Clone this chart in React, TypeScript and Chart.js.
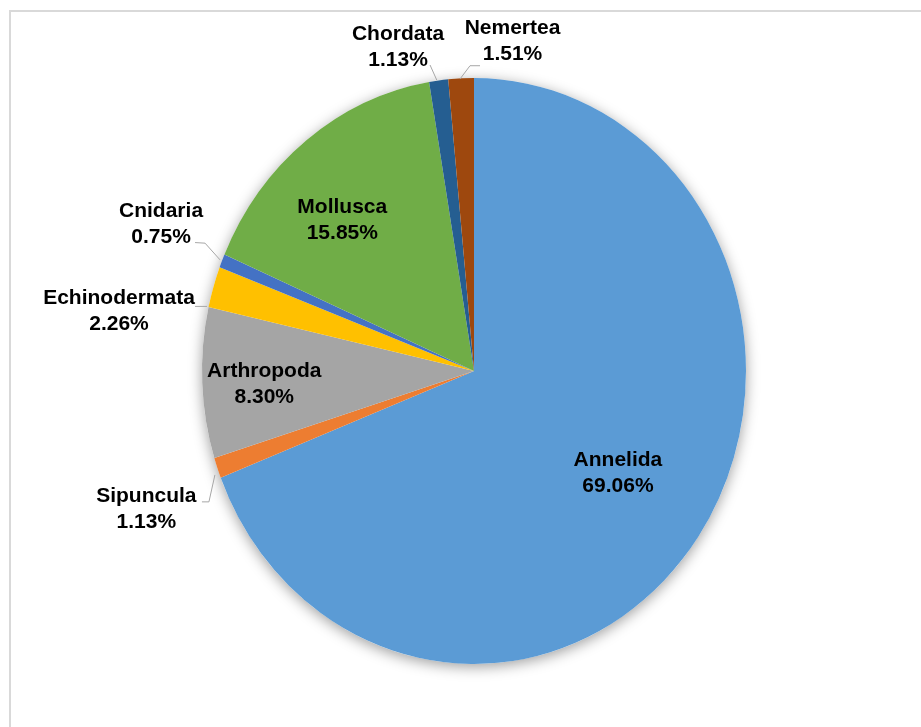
import React, { useEffect, useRef } from "react";
import { Chart, registerables } from "chart.js";

Chart.register(...registerables);

// ---- data ----
const categories = [
  "Annelida",
  "Sipuncula",
  "Arthropoda",
  "Echinodermata",
  "Cnidaria",
  "Mollusca",
  "Chordata",
  "Nemertea",
];
const percentages = [69.06, 1.13, 8.3, 2.26, 0.75, 15.85, 1.13, 1.51];
const sliceColors = [
  "#5B9BD5",
  "#ED7D31",
  "#A5A5A5",
  "#FFC000",
  "#4472C4",
  "#70AD47",
  "#255E91",
  "#9E480E",
];

// ---- label placement (offset from slice's mid-angle point on the rim; leader polyline points rel. to same) ----
type Layout = { dx: number; dy: number; leader?: number[][] };
const labelLayout: Layout[] = [
  { dx: -80.7, dy: -63.2 },
  { dx: -71, dy: 41, leader: [[-2.4, 6.9], [-8.4, 33.9], [-15.4, 33.9]] },
  { dx: 62, dy: 1 },
  { dx: -94.4, dy: 23.9, leader: [[-6.4, 19.4], [-18.4, 19.4]] },
  { dx: -60.9, dy: -37, leader: [[-1.9, -1], [-16.9, -17.7], [-26.9, -18.3]] },
  { dx: 35.9, dy: 80 },
  { dx: -40.6, dy: -33.5, leader: [[-8.6, -15.5], [-1.9, -0.5]] },
  { dx: 51.4, dy: -37.3, leader: [[18.9, -12.6], [8.9, -12.6], [-1.1, 0.7]] },
];

const Y_STRETCH = 293 / 272;

const pieDecor = {
  id: "pieDecor",
  beforeDraw(chart: any) {
    const ctx = chart.ctx;
    ctx.save();
    ctx.strokeStyle = "#d9d9d9";
    ctx.lineWidth = 2;
    ctx.beginPath();
    ctx.moveTo(10, 727);
    ctx.lineTo(10, 11);
    ctx.lineTo(921, 11);
    ctx.stroke();
    ctx.restore();
  },
  beforeDatasetsDraw(chart: any) {
    const ctx = chart.ctx;
    const arc = chart.getDatasetMeta(0).data[0];
    if (!arc) return;
    const { x, y, outerRadius } = arc;
    // shadow
    ctx.save();
    ctx.shadowColor = "rgba(0,0,0,0.38)";
    ctx.shadowBlur = 14;
    ctx.shadowOffsetX = 0;
    ctx.shadowOffsetY = 3;
    ctx.fillStyle = "#ffffff";
    ctx.beginPath();
    ctx.ellipse(x, y, outerRadius, outerRadius * Y_STRETCH, 0, 0, Math.PI * 2);
    ctx.fill();
    ctx.restore();
    // stretch
    ctx.save();
    ctx.translate(x, y);
    ctx.scale(1, Y_STRETCH);
    ctx.translate(-x, -y);
  },
  afterDatasetsDraw(chart: any) {
    const ctx = chart.ctx;
    ctx.restore();
    const meta = chart.getDatasetMeta(0);
    ctx.save();
    ctx.font = 'bold 21px "Liberation Sans", Arial, sans-serif';
    ctx.textAlign = "center";
    ctx.textBaseline = "middle";
    meta.data.forEach((el: any, i: number) => {
      const mid = (el.startAngle + el.endAngle) / 2;
      const ax = el.x + Math.cos(mid) * el.outerRadius;
      const ay = el.y + Math.sin(mid) * el.outerRadius * Y_STRETCH;
      const lay = labelLayout[i];
      if (lay.leader) {
        ctx.strokeStyle = "#a6a6a6";
        ctx.lineWidth = 1;
        ctx.beginPath();
        lay.leader.forEach((p, k) => {
          if (k === 0) ctx.moveTo(ax + p[0], ay + p[1]);
          else ctx.lineTo(ax + p[0], ay + p[1]);
        });
        ctx.stroke();
      }
      const tx = ax + lay.dx;
      const ty = ay + lay.dy;
      ctx.fillStyle = "#000000";
      ctx.fillText(categories[i], tx, ty - 13);
      ctx.fillText(percentages[i].toFixed(2) + "%", tx, ty + 13);
    });
    ctx.restore();
  },
};

export default function App() {
  const ref = useRef<HTMLCanvasElement>(null);
  useEffect(() => {
    if (!ref.current) return;
    const chart = new Chart(ref.current, {
      type: "pie",
      data: {
        labels: categories,
        datasets: [
          {
            data: percentages,
            backgroundColor: sliceColors,
            borderWidth: 0,
            hoverOffset: 0,
            offset: 0,
          },
        ],
      },
      options: {
        responsive: false,
        animation: false,
        events: [],
        layout: { padding: { left: 202, right: 175, top: 99, bottom: 84 } },
        plugins: {
          legend: { display: false },
          tooltip: { enabled: false },
        },
      },
      plugins: [pieDecor],
    });
    return () => chart.destroy();
  }, []);
  return (
    <div style={{ position: "absolute", left: 0, top: 0, width: 921, height: 727, background: "#fff" }}>
      <canvas ref={ref} width={921} height={727} />
    </div>
  );
}
